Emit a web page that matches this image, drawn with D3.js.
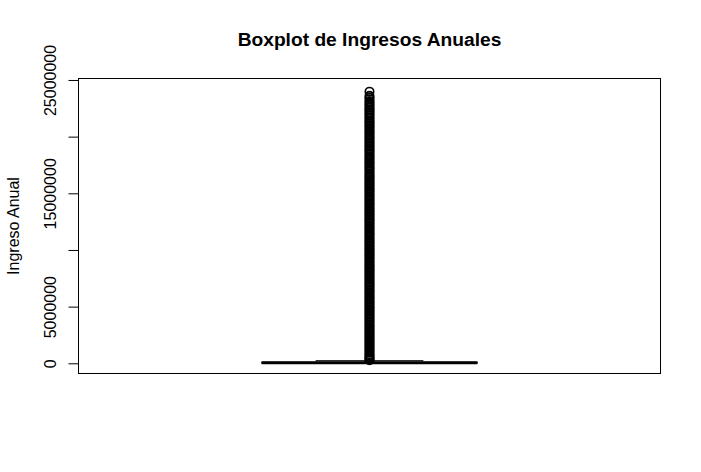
<!DOCTYPE html>
<html><head><meta charset="utf-8">
<script src="https://cdn.jsdelivr.net/npm/d3@7"></script>
<style>body{margin:0;background:#fff;} text{font-family:"Liberation Sans",Arial,Helvetica,sans-serif;}</style>
</head><body>
<script>
// Data (values in pesos)
const categories = ["Ingreso Anual"];
const boxStats = { lowerWhisker: 0, q1: 20000, median: 50000, q3: 90000, upperWhisker: 230000 };
// outliers (thousands)
const outliersK = [23970, 23600, 23450, 23300, 23120, 22980, 22850, 22700, 22560, 22410, 22300, 22150, 22020, 21880, 21700, 21590, 21430, 21300, 21180, 21020, 20900, 20760, 20610, 20480, 20350, 20200, 20050, 19930, 19800, 19640, 19500, 19380, 19220, 19100, 18950, 18820, 18700, 18560, 18400, 18270, 18130, 18000, 17860, 17720, 17600, 17450, 17310, 17180, 17050, 16900, 16770, 16620, 16500, 16380, 16240, 16100, 15960, 15830, 15700, 15560, 15420, 15300, 15150, 15020, 14880, 14750, 14600, 14480, 14350, 14200, 14070, 13940, 13800, 13660, 13530, 13400, 13260, 13120, 13000, 12850, 12720, 12600, 12460, 12320, 12190, 12050, 11920, 11780, 11650, 11500, 11380, 11250, 11100, 10970, 10840, 10700, 10560, 10430, 10300, 10160, 10020, 9900, 9760, 9620, 9500, 9350, 9220, 9090, 8950, 8820, 8680, 8550, 8420, 8280, 8150, 8020, 7880, 7740, 7610, 7480, 7350, 7200, 7080, 6950, 6810, 6680, 6540, 6400, 6280, 6140, 6000, 5870, 5740, 5600, 5460, 5330, 5200, 5060, 4930, 4800, 4660, 4530, 4390, 4260, 4120, 3990, 3860, 3720, 3590, 3450, 3320, 3190, 3050, 2920, 2790, 2650, 2520, 2380, 2250, 2120, 1980, 1850, 1720, 1590, 1450, 1320, 1190, 1060, 930, 800, 680, 560, 450, 350, 280];
const yTicks = [0, 5000000, 10000000, 15000000, 20000000, 25000000];
// R drops overlapping labels: only every other one is shown
const yTickLabels = ["0", "5000000", "", "15000000", "", "25000000"];
const title = "Boxplot de Ingresos Anuales";
const yLabel = "Ingreso Anual";

const W = 701, H = 472;
const plot = { left: 78.5, right: 660.5, top: 78.5, bottom: 373.5 };

const svg = d3.select("body").append("svg").attr("width", W).attr("height", H);

const y = d3.scaleLinear().domain([-900000, 25130000]).range([plot.bottom, plot.top]);
const x = d3.scaleLinear().domain([0.46, 1.54]).range([plot.left, plot.right]);
const outliers = outliersK.map(v => v * 1000);

// frame
svg.append("rect").attr("x", plot.left).attr("y", plot.top)
  .attr("width", plot.right - plot.left).attr("height", plot.bottom - plot.top)
  .attr("fill", "none").attr("stroke", "#000").attr("stroke-width", 1);

// y axis
const yAxis = d3.axisLeft(y).tickValues(yTicks).tickFormat((d, i) => yTickLabels[i]).tickSize(10).tickSizeOuter(0);
const ga = svg.append("g").attr("transform", `translate(${plot.left},0)`).call(yAxis);
ga.select(".domain").attr("d", `M0,${y(yTicks[0])}V${y(yTicks[yTicks.length-1])}`).attr("stroke", "#000");
ga.selectAll(".tick line").attr("stroke", "#000");
ga.selectAll(".tick text")
  .attr("font-size", 16).attr("fill", "#000")
  .attr("x", null).attr("dy", null)
  .attr("text-anchor", "middle")
  .attr("transform", "translate(-22.5,0) rotate(-90)");

// box
const cx = 1, halfBox = 0.2, halfStaple = 0.1;
const g = svg.append("g");
categories.forEach(() => {
  g.append("line").attr("x1", x(cx)).attr("x2", x(cx)).attr("y1", y(boxStats.q3)).attr("y2", y(boxStats.upperWhisker))
    .attr("stroke", "#000").attr("stroke-dasharray", "4,4");
  g.append("line").attr("x1", x(cx)).attr("x2", x(cx)).attr("y1", y(boxStats.q1)).attr("y2", y(boxStats.lowerWhisker))
    .attr("stroke", "#000").attr("stroke-dasharray", "4,4");
  [boxStats.upperWhisker, boxStats.lowerWhisker].forEach(v => {
    g.append("line").attr("x1", x(cx - halfStaple)).attr("x2", x(cx + halfStaple)).attr("y1", y(v)).attr("y2", y(v))
      .attr("stroke", "#000").attr("stroke-width", 1);
  });
  g.append("rect").attr("x", x(cx - halfBox)).attr("width", x(cx + halfBox) - x(cx - halfBox))
    .attr("y", y(boxStats.q3)).attr("height", y(boxStats.q1) - y(boxStats.q3))
    .attr("fill", "none").attr("stroke", "#000");
  g.append("line").attr("x1", x(cx - halfBox)).attr("x2", x(cx + halfBox)).attr("y1", y(boxStats.median)).attr("y2", y(boxStats.median))
    .attr("stroke", "#000").attr("stroke-width", 3);
  g.selectAll("circle.out").data(outliers).enter().append("circle")
    .attr("cx", x(cx)).attr("cy", d => y(d)).attr("r", 4.2)
    .attr("fill", "none").attr("stroke", "#000").attr("stroke-width", 1.6);
});

// title
svg.append("text").attr("x", (plot.left + plot.right) / 2).attr("y", 45.5)
  .attr("text-anchor", "middle").attr("font-size", 19.2).attr("font-weight", "bold").attr("fill", "#000").text(title);

// y label
svg.append("text").attr("transform", `translate(18.5,${(plot.top + plot.bottom) / 2}) rotate(-90)`)
  .attr("text-anchor", "middle").attr("font-size", 16).attr("fill", "#000").text(yLabel);
</script>
</body></html>
